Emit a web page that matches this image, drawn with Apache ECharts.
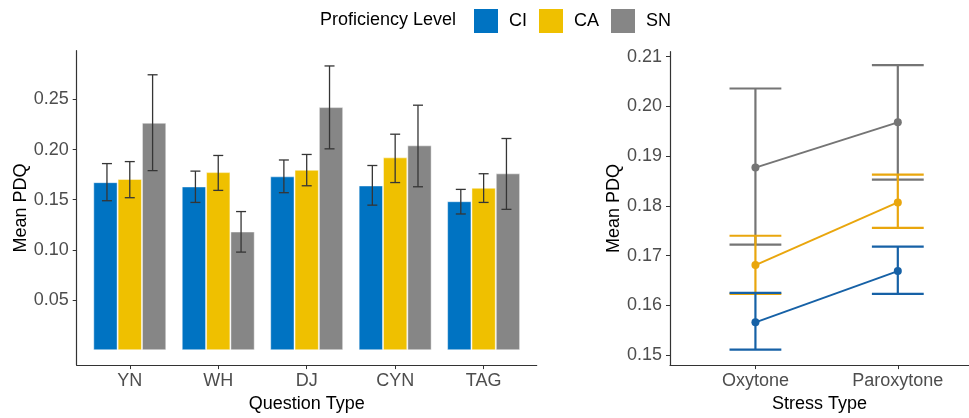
<!DOCTYPE html>
<html><head><meta charset="utf-8">
<script src="https://cdn.jsdelivr.net/npm/echarts@6/dist/echarts.min.js"></script>
<style>html,body{margin:0;padding:0;background:#fff}#c{width:969px;height:418px}</style>
</head><body><div id="c"></div>
<script>
// ---- data ----
const questionTypes = ['YN', 'WH', 'DJ', 'CYN', 'TAG'];
const levels = ['CI', 'CA', 'SN'];
const barMeanCI = [0.1675, 0.1632, 0.1733, 0.1642, 0.1485];
const barMeanCA = [0.1707, 0.1775, 0.1798, 0.1922, 0.1619];
const barMeanSN = [0.2267, 0.1183, 0.2423, 0.2042, 0.1763];
const barLowCI  = [0.1490, 0.1473, 0.1570, 0.1446, 0.1358];
const barHighCI = [0.1860, 0.1785, 0.1896, 0.1841, 0.1603];
const barLowCA  = [0.1520, 0.1593, 0.1639, 0.1671, 0.1473];
const barHighCA = [0.1880, 0.1941, 0.1951, 0.2153, 0.1759];
const barLowSN  = [0.1790, 0.0978, 0.2007, 0.1629, 0.1404];
const barHighSN = [0.2745, 0.1382, 0.2833, 0.2442, 0.2110];
const leftTicks = [0.05, 0.10, 0.15, 0.20, 0.25];

const stressTypes = ['Oxytone', 'Paroxytone'];
const lineMeanCI = [0.1566, 0.1669];
const lineLowCI  = [0.1511, 0.1623];
const lineHighCI = [0.1625, 0.1718];
const lineMeanCA = [0.1681, 0.1807];
const lineLowCA  = [0.1623, 0.1756];
const lineHighCA = [0.1740, 0.1863];
const lineMeanSN = [0.1877, 0.1968];
const lineLowSN  = [0.1722, 0.1853];
const lineHighSN = [0.2036, 0.2083];
const rightTicks = [0.15, 0.16, 0.17, 0.18, 0.19, 0.20, 0.21];

// ---- styling ----
const FONT = 'Liberation Sans, Arial, sans-serif';
const barColors = ['#0073C2', '#EFC000', '#868686'];
const lineColors = ['#1661A6', '#E9A60D', '#757575'];
const axisColor = '#333333';
const tickText = '#4d4d4d';

function pairs(xs, ys) { return ys.map((v, i) => [i, v]); }
function triples(lo, hi) { return lo.map((v, i) => [i, v, hi[i]]); }

function errRender(offset, capHalf, color, width) {
  return function (params, api) {
    const x = api.value(0) + offset;
    const loV = api.value(1), hiV = api.value(2);
    const a = api.coord([x, hiV]);
    const b = api.coord([x, loV]);
    const c1 = api.coord([x - capHalf, hiV]);
    const c2 = api.coord([x + capHalf, hiV]);
    const d1 = api.coord([x - capHalf, loV]);
    const d2 = api.coord([x + capHalf, loV]);
    const style = { stroke: color, lineWidth: width, fill: null };
    return {
      type: 'group',
      children: [
        { type: 'line', shape: { x1: a[0], y1: a[1], x2: b[0], y2: b[1] }, style },
        { type: 'line', shape: { x1: c1[0], y1: c1[1], x2: c2[0], y2: c2[1] }, style },
        { type: 'line', shape: { x1: d1[0], y1: d1[1], x2: d2[0], y2: d2[1] }, style }
      ]
    };
  };
}

const barMeans = [barMeanCI, barMeanCA, barMeanSN];
const barLows = [barLowCI, barLowCA, barLowSN];
const barHighs = [barHighCI, barHighCA, barHighSN];
const lineMeans = [lineMeanCI, lineMeanCA, lineMeanSN];
const lineLows = [lineLowCI, lineLowCA, lineLowSN];
const lineHighs = [lineHighCI, lineHighCA, lineHighSN];
const errOffsets = [-0.258, 0, 0.258];

const series = [];
levels.forEach((lv, k) => {
  series.push({
    name: lv, type: 'bar', xAxisIndex: 0, yAxisIndex: 0,
    data: pairs(questionTypes, barMeans[k]),
    barWidth: '27.5%', barGap: '0%',
    itemStyle: { color: barColors[k], borderColor: 'rgba(255,255,255,0.45)', borderWidth: 1 },
    emphasis: { disabled: true }, z: 2
  });
});
levels.forEach((lv, k) => {
  series.push({
    name: lv + ' error', type: 'custom', xAxisIndex: 0, yAxisIndex: 0,
    data: triples(barLows[k], barHighs[k]),
    encode: { x: 0, y: [1, 2] },
    renderItem: errRender(errOffsets[k], 0.0565, '#353535', 1.3),
    silent: true, z: 4
  });
});
[2, 1, 0].forEach(k => {
  series.push({
    name: levels[k] + ' stress error', type: 'custom', xAxisIndex: 1, yAxisIndex: 1,
    data: triples(lineLows[k], lineHighs[k]),
    encode: { x: 0, y: [1, 2] },
    renderItem: errRender(0, 0.182, lineColors[k], 2.2),
    silent: true, z: 3
  });
  series.push({
    name: levels[k] + ' stress', type: 'line', xAxisIndex: 1, yAxisIndex: 1,
    data: pairs(stressTypes, lineMeans[k]),
    symbol: 'circle', symbolSize: 8,
    lineStyle: { color: lineColors[k], width: 2 },
    itemStyle: { color: lineColors[k] },
    emphasis: { disabled: true }, z: 5
  });
});

function xAxisCfg(grid, names, max, title, gap) {
  const vals = names.map((_, i) => i);
  return {
    type: 'value', gridIndex: grid, min: -0.6, max: max,
    axisLine: { onZero: false, lineStyle: { color: axisColor, width: 1.2 } },
    axisTick: { customValues: vals, length: 4, lineStyle: { color: axisColor } },
    axisLabel: { customValues: vals, formatter: v => names[Math.round(v)], fontSize: 18, color: tickText, fontFamily: FONT, margin: 7 },
    splitLine: { show: false },
    name: title, nameLocation: 'middle', nameGap: 29,
    nameTextStyle: { fontSize: 18, color: '#000', fontFamily: FONT }
  };
}
function yAxisCfg(grid, min, max, ticks) {
  return {
    type: 'value', gridIndex: grid, min: min, max: max,
    axisLine: { show: true, onZero: false, lineStyle: { color: axisColor, width: 1.2 } },
    axisTick: { show: true, customValues: ticks, length: 4, lineStyle: { color: axisColor } },
    axisLabel: { customValues: ticks, formatter: v => v.toFixed(2), fontSize: 18, color: tickText, fontFamily: FONT, margin: 8 },
    splitLine: { show: false },
    name: 'Mean PDQ', nameLocation: 'middle', nameGap: 47, nameRotate: 90,
    nameTextStyle: { fontSize: 18, color: '#000', fontFamily: FONT }
  };
}

const option = {
  backgroundColor: '#ffffff',
  animation: false,
  title: {
    text: 'Proficiency Level', left: 320, top: 11, padding: 0,
    textStyle: { fontSize: 18, fontWeight: 'normal', color: '#000', fontFamily: FONT }
  },
  legend: {
    data: levels, left: 474, top: 9, padding: 0,
    icon: 'rect', itemWidth: 24, itemHeight: 24, itemGap: 12,
    itemStyle: { borderWidth: 0 },
    textStyle: { fontSize: 18, color: '#000', fontFamily: FONT, padding: [0, 0, 0, 6] },
    selectedMode: false
  },
  grid: [
    { left: 76.7, top: 50.7, width: 460, height: 320.3 },
    { left: 670, top: 51.7, width: 299, height: 319.3 }
  ],
  xAxis: [
    xAxisCfg(0, questionTypes, 4.6, 'Question Type'),
    xAxisCfg(1, stressTypes, 1.5, 'Stress Type')
  ],
  yAxis: [
    yAxisCfg(0, -0.0148, 0.2985, leftTicks),
    yAxisCfg(1, 0.148, 0.211, rightTicks)
  ],
  series: series
};

const chart = echarts.init(document.getElementById('c'));
chart.setOption(option);
</script>
</body></html>
